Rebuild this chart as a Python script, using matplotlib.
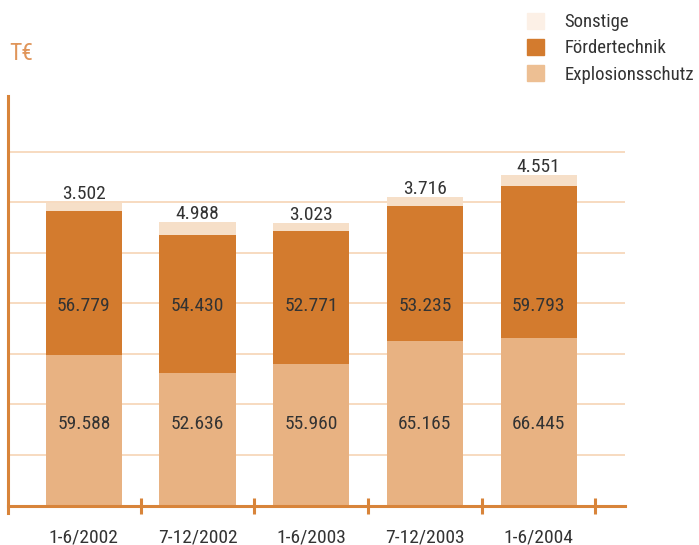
import matplotlib.pyplot as plt
from matplotlib.patches import Patch
from matplotlib import font_manager

# Daten (T€)
perioden = ['1-6/2002', '7-12/2002', '1-6/2003', '7-12/2003', '1-6/2004']
explosionsschutz = [59588, 52636, 55960, 65165, 66445]
foerdertechnik = [56779, 54430, 52771, 53235, 59793]
sonstige = [3502, 4988, 3023, 3716, 4551]


def fmt(v):
    return f'{v:,}'.replace(',', '.')


vorhanden = {f.name for f in font_manager.fontManager.ttflist}
familien = [f for f in ['Roboto Condensed', 'Liberation Sans Narrow', 'Roboto'] if f in vorhanden]
plt.rcParams['font.family'] = familien + ['DejaVu Sans']
schmal = familien and familien[0] in ('Roboto Condensed', 'Liberation Sans Narrow')
fs = 14 if schmal else 12.5

c_expl = '#E8B282'
c_foerd = '#D37B2E'
c_sonst = '#F6DFC8'
c_achse = '#D8843A'
c_gitter = '#F7D8BB'
c_text = '#333333'

fig = plt.figure(figsize=(6.99, 5.45), dpi=100)
ax = fig.add_axes([8 / 699, 32.3 / 545, 617 / 699, 416.7 / 545])

x = list(range(len(perioden)))
breite = 0.67
unten2 = [a + b for a, b in zip(explosionsschutz, foerdertechnik)]

ax.bar(x, explosionsschutz, breite, color=c_expl, zorder=3)
ax.bar(x, foerdertechnik, breite, bottom=explosionsschutz, color=c_foerd, zorder=3)
ax.bar(x, sonstige, breite, bottom=unten2, color=c_sonst, zorder=3)

for i in x:
    ax.text(i, 32300, fmt(explosionsschutz[i]), ha='center', va='center',
            fontsize=fs, color=c_text, zorder=4)
    ax.text(i, 78800, fmt(foerdertechnik[i]), ha='center', va='center',
            fontsize=fs, color=c_text, zorder=4)
    ax.text(i, unten2[i] + sonstige[i] - 300, fmt(sonstige[i]), ha='center', va='bottom',
            fontsize=fs, color=c_text, zorder=4)

# Gitterlinien
for g in range(20000, 160000, 20000):
    ax.axhline(g, color=c_gitter, lw=1.3, zorder=1)

ax.set_xlim(-0.667, 4.76)
ax.set_ylim(-2800, 162000)

for s in ['top', 'right']:
    ax.spines[s].set_visible(False)
ax.spines['left'].set_color(c_achse)
ax.spines['left'].set_linewidth(2.2)
ax.spines['bottom'].set_color(c_achse)
ax.spines['bottom'].set_linewidth(2.2)
ax.spines['bottom'].set_position(('data', 0))
ax.spines['bottom'].set_zorder(5)

ax.set_yticks([])
ax.set_xticks([i + 0.5 for i in x])
ax.set_xticklabels([])
ax.tick_params(axis='x', direction='inout', length=11, width=2.2, color=c_achse)

for i in x:
    ax.text(i, -9000, perioden[i], ha='center', va='top', fontsize=fs, color=c_text)

fig.text(9 / 699, 1 - 53 / 545, 'T€', fontsize=fs + 3, color='#E0955A', va='center', ha='left')

lfs = fs - 0.5
handles = [Patch(color='#FCF0E6', label='Sonstige'),
           Patch(color=c_foerd, label='Fördertechnik'),
           Patch(color='#EDBF93', label='Explosionsschutz')]
fig.legend(handles=handles, loc='upper left', bbox_to_anchor=(527 / 699, 1 - 13 / 545),
           frameon=False, fontsize=lfs, handlelength=0.9, handleheight=0.9,
           handletextpad=1.1, labelspacing=0.42, borderpad=0, borderaxespad=0,
           labelcolor=c_text)

fig.savefig('out.png', dpi=100)
